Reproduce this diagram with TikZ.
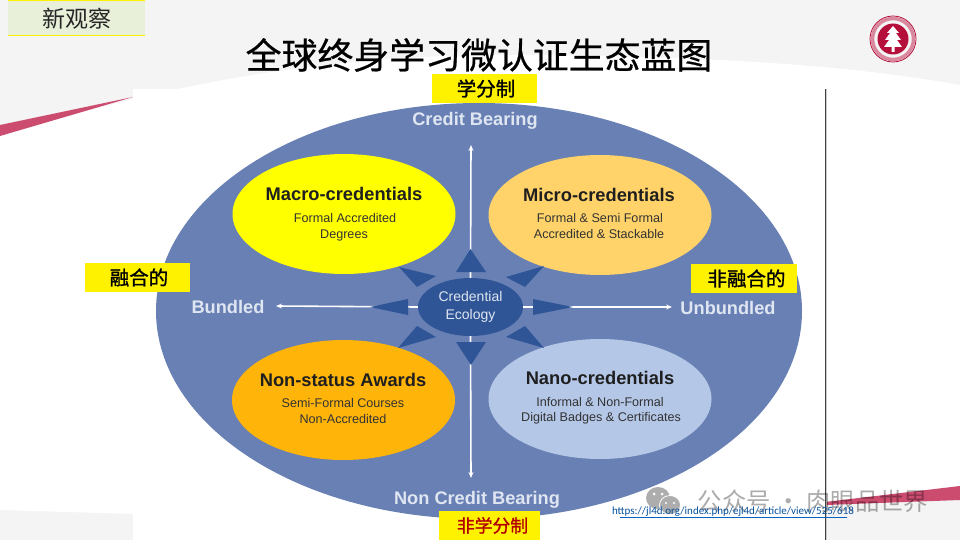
\documentclass[tikz,border=0pt]{standalone}
\usepackage{fontspec}
\setmainfont{Liberation Sans}
\newfontfamily\cjk{Noto Sans CJK SC}
\newfontfamily\cjkb[FakeBold=1.2]{Noto Sans CJK SC}
\newfontfamily\cjkt[FakeBold=0.6]{Noto Sans CJK SC}
\newfontfamily\linkfont{Carlito}
\usetikzlibrary{arrows.meta,shapes.geometric}
\definecolor{pagegrey}{HTML}{F4F4F4}
\definecolor{swoosh}{HTML}{CC4C70}
\definecolor{oval}{HTML}{6880B4}
\definecolor{deep}{HTML}{2F5597}
\definecolor{labelwhite}{HTML}{DFE6F2}
\definecolor{macroy}{HTML}{FFFF00}
\definecolor{microy}{HTML}{FFD369}
\definecolor{nonor}{HTML}{FFB40A}
\definecolor{nanob}{HTML}{B4C7E7}
\definecolor{tagbg}{HTML}{E8F0DA}
\definecolor{linkblue}{HTML}{0563C1}
\definecolor{seal}{HTML}{B5103C}
\newcommand{\fs}[1]{\fontsize{#1}{#1}\selectfont}
\tikzset{
 x=1pt,y=-1pt,
 yellowtag/.style={fill=yellow,draw=none,inner sep=0pt,minimum height=29pt,font=\cjkb\fs{19.5},text=black},
 quad/.style={ellipse,draw=none,minimum width=223pt,minimum height=120pt,inner sep=0pt},
 headl/.style={font=\bfseries\fs{18.3},text=black!88},
 subl/.style={font=\fs{12.6},text=black!80},
 axisl/.style={font=\bfseries\fs{18.2},text=labelwhite},
 axisline/.style={draw=white,line width=1.6pt,-{Stealth[length=6pt,width=5pt]}},
 spike/.style={fill=deep,draw=none},
}
\begin{document}
\begin{tikzpicture}
\useasboundingbox (0,0) rectangle (960,540);
% background
\fill[pagegrey] (0,0) rectangle (960,540);
\fill[white] (0,136) .. controls (150,90) and (300,56) .. (500,55) .. controls (700,55) and (850,65) .. (960,85) -- (960,487) -- (825,503) -- (825,540) -- (133,540) -- (133,514) -- (0,510) -- cycle;
\fill[swoosh] (0,125) -- (133,97) -- (0,136) -- cycle;
\fill[swoosh] (825,502) -- (960,486) -- (960,500) -- (825,505) -- cycle;
\fill[white] (133,89) rectangle (825,540);
\draw[black!75,line width=1pt] (825,89) -- (825,540);
\draw[black!20,line width=1pt] (826.3,89) -- (826.3,540);
% tag
\fill[tagbg] (8,0) rectangle (145,36);
\draw[yellow,line width=1pt] (8,0.5) -- (145,0.5) (8,36) -- (145,36);
\node[font=\cjk\fs{23},text=black!85] (tag) at (76.5,19) {新观察};
% title
\node[font=\cjkt\fs{35.9},text=black] (title) at (479,55) {全球终身学习微认证生态蓝图};
% seal
\node[circle,draw=seal,line width=0.8pt,minimum size=46pt,inner sep=0pt] (seal1) at (893,39) {};
\node[circle,draw=seal!50,line width=3.5pt,minimum size=41pt,inner sep=0pt] (seal2) at (893,39) {};
\node[circle,fill=seal,minimum size=31pt,inner sep=0pt] (seal3) at (893,39) {};
\fill[white] (893,26) -- (899,33) -- (896,33) -- (901,40) -- (897,40) -- (902,47) -- (894.5,47) -- (894.5,52) -- (891.5,52) -- (891.5,47) -- (884,47) -- (889,40) -- (885,40) -- (890,33) -- (887,33) -- cycle;
% main oval
\node[ellipse,fill=oval,minimum width=646pt,minimum height=416pt,inner sep=0pt] (main) at (479,311) {};
\node[quad,fill=macroy] (macro) at (344,214) {};
\node[quad,fill=microy] (micro) at (600,215) {};
\node[quad,fill=nonor] (non) at (343.5,400) {};
\node[quad,fill=nanob] (nano) at (600,399) {};
\node[headl] (macroh) at (344,194) {Macro-credentials};
\node[subl] (macro1) at (345,218) {Formal Accredited};
\node[subl] (macro2) at (344,235) {Degrees};
\node[headl] (microh) at (599,195) {Micro-credentials};
\node[subl] (micro1) at (600,218) {Formal \& Semi Formal};
\node[subl] (micro2) at (599,234) {Accredited \& Stackable};
\node[headl] (nonh) at (343,380) {Non-status Awards};
\node[subl] (non1) at (343,403) {Semi-Formal Courses};
\node[subl] (non2) at (343,419) {Non-Accredited};
\node[headl] (nanoh) at (600,378) {Nano-credentials};
\node[subl] (nano1) at (600,402) {Informal \& Non-Formal};
\node[subl] (nano2) at (601,418) {Digital Badges \& Certificates};
% axis labels
\node[axisl] (credit) at (475,120.5) {Credit Bearing};
\node[axisl] (noncredit) at (477,500) {Non Credit Bearing};
\node[axisl] (bundled) at (228,307) {Bundled};
\node[axisl] (unbundled) at (728,308) {Unbundled};
% centre and axes
\node[ellipse,fill=deep,minimum width=105pt,minimum height=58pt,inner sep=0pt] (eco) at (470.5,307) {};
\draw[axisline] (eco.north) -- (471,145);
\draw[axisline] (eco.south) -- (471,478);
\draw[axisline] (eco.west) -- (276,306);
\draw[axisline] (eco.east) -- (672,307);
\node[font=\fs{14},text=labelwhite,align=center,inner sep=0pt] (ecot) at (470.5,307) {Credential\\[4pt]Ecology};
% spikes
\fill[spike] (470.5,249) -- (456,272) -- (486,272) -- cycle;
\fill[spike] (456,342) -- (486,342) -- (471,365) -- cycle;
\fill[spike] (370,307) -- (408,299) -- (408,315) -- cycle;
\fill[spike] (533,299) -- (533,315) -- (573,307) -- cycle;
\fill[spike] (399,267) -- (436,276) -- (417,287) -- cycle;
\fill[spike] (544,266) -- (506,277) -- (525,287) -- cycle;
\fill[spike] (398,348) -- (417,326) -- (436,337) -- cycle;
\fill[spike] (544,348) -- (525,326) -- (506,337) -- cycle;
% yellow tags
\node[yellowtag,minimum width=105pt] (t1) at (484.5,88.5) {\hspace*{3pt}学分制};
\node[yellowtag,minimum width=105pt] (t2) at (137.5,277.5) {\hspace*{3pt}融合的};
\node[yellowtag,minimum width=106pt] (t3) at (744,278.5) {\hspace*{5pt}非融合的};
\node[yellowtag,minimum width=101pt,text=red!70!black,font=\cjkb\fs{17.8}] (t4) at (489.5,525.5) {\hspace*{6pt}非学分制};
% watermark
\fill[black!32] (658,498) ellipse (12pt and 11pt);
\fill[black!32] (670,505) ellipse (10.5pt and 9.5pt);
\draw[white,line width=0.8pt] (670,505) ellipse (10.5pt and 9.5pt);
\fill[white] (654,494) circle (1.5pt) (662,494) circle (1.5pt) (666,503) circle (1.2pt) (674,503) circle (1.2pt);
\node[font=\cjk\fs{24.4},text=black,opacity=0.33,inner sep=0pt] (wm) at (813,501) {公众号 · 肉眼品世界};
% link
\node[font=\linkfont\fs{11},text=linkblue!80!black,inner sep=0pt] (url) at (733,511.5) {https://jl4d.org/index.php/ejl4d/article/view/525/618};
\draw[linkblue,line width=0.9pt] (619.5,517.5) -- (846.5,517.5);
\end{tikzpicture}
\end{document}
